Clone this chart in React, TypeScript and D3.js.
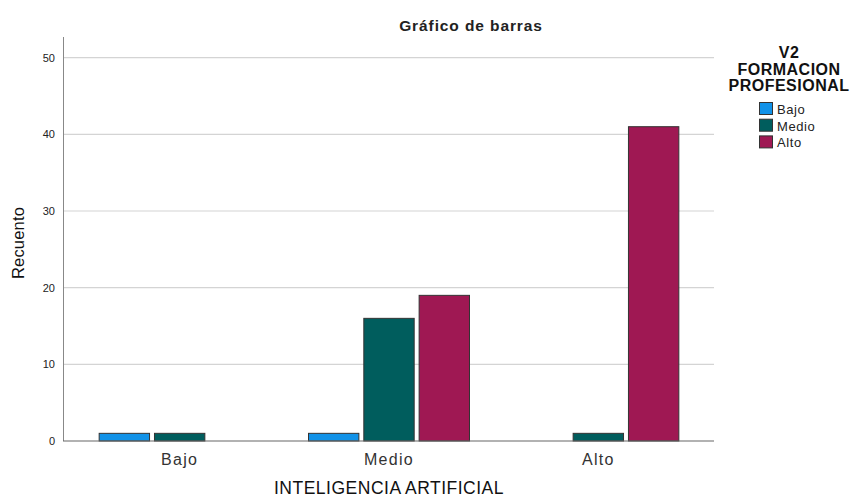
import React from "react";
import * as d3 from "d3";

const categories = ["Bajo", "Medio", "Alto"];
const seriesNames = ["Bajo", "Medio", "Alto"];
const bajoValues = [1, 1, 0];
const medioValues = [1, 16, 1];
const altoValues = [0, 19, 41];
const yTicks = [0, 10, 20, 30, 40, 50];
const colors = ["#1192e8", "#005d5d", "#9f1853"];

const W = 852;
const H = 498;
const font = "'Liberation Sans', Arial, sans-serif";

export default function App() {
  const series = [bajoValues, medioValues, altoValues];
  const y = d3.scaleLinear().domain([0, 52.7]).range([441, 37]);
  const x0 = d3.scaleBand<string>().domain(categories).range([75, 703]).padding(0);
  const groupW = 161;
  const x1 = d3
    .scaleBand<string>()
    .domain(seriesNames)
    .range([0, groupW])
    .paddingInner(5 / 56)
    .paddingOuter(0);

  return (
    <svg
      width={W}
      height={H}
      style={{ position: "absolute", left: 0, top: 0, background: "#fff" }}
      fontFamily={font}
    >
      <rect x={0} y={0} width={W} height={H} fill="#fff" />
      <text x={471} y={31} textAnchor="middle" fontSize={15.5} fontWeight="bold" letterSpacing={0.9} fill="#222">
        Gráfico de barras
      </text>
      {yTicks.filter((t) => t > 0).map((t) => (
        <line key={t} x1={63} x2={714} y1={y(t)} y2={y(t)} stroke="#d4d4d4" strokeWidth={1.2} />
      ))}
      {yTicks.map((t) => (
        <text key={"l" + t} x={55} y={y(t) + 4} textAnchor="end" fontSize={11} fill="#222">
          {t}
        </text>
      ))}
      <line x1={63.5} x2={63.5} y1={37} y2={441} stroke="#888" strokeWidth={1} />
      <text
        transform={`translate(24,243) rotate(-90)`}
        textAnchor="middle"
        fontSize={16.5}
        letterSpacing={0.2}
        fill="#111"
      >
        Recuento
      </text>
      {categories.map((c, ci) => {
        const gx = (x0(c) as number) + x0.bandwidth() / 2 - groupW / 2;
        return (
          <g key={c}>
            {seriesNames.map((s, si) => {
              const v = series[si][ci];
              if (v <= 0) return null;
              return (
                <rect
                  key={s}
                  x={gx + (x1(s) as number)}
                  y={y(v)}
                  width={x1.bandwidth()}
                  height={y(0) - y(v)}
                  fill={colors[si]}
                  stroke="#333"
                  strokeWidth={1}
                />
              );
            })}
            <text
              x={(x0(c) as number) + x0.bandwidth() / 2}
              y={465}
              textAnchor="middle"
              fontSize={16}
              letterSpacing={1.3}
              fill="#333"
            >
              {c}
            </text>
          </g>
        );
      })}
      <line x1={63} x2={714} y1={441} y2={441} stroke="#666" strokeWidth={1.2} />
      <text x={389} y={494} textAnchor="middle" fontSize={17.5} letterSpacing={0.5} fill="#111">
        INTELIGENCIA ARTIFICIAL
      </text>
      <g>
        <text x={789} y={58} textAnchor="middle" fontSize={16} fontWeight="bold" letterSpacing={0.5} fill="#111">
          V2
        </text>
        <text x={789} y={74.5} textAnchor="middle" fontSize={16} fontWeight="bold" letterSpacing={0.5} fill="#111">
          FORMACION
        </text>
        <text x={789} y={91} textAnchor="middle" fontSize={16} fontWeight="bold" letterSpacing={0.5} fill="#111">
          PROFESIONAL
        </text>
        {seriesNames.map((s, i) => (
          <g key={s}>
            <rect
              x={759.5}
              y={102.5 + i * 16.7}
              width={13}
              height={12}
              fill={colors[i]}
              stroke="#333"
              strokeWidth={1}
            />
            <text x={777} y={114 + i * 16.7} fontSize={13} letterSpacing={0.6} fill="#222">
              {s}
            </text>
          </g>
        ))}
      </g>
    </svg>
  );
}
